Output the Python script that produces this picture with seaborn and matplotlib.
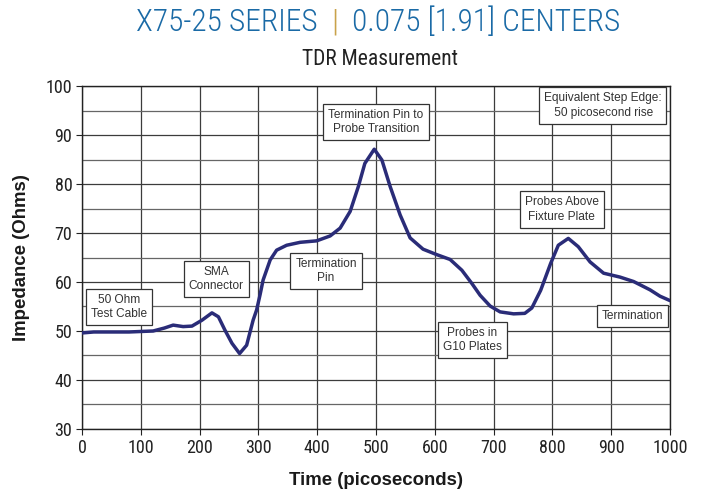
import matplotlib
matplotlib.use("Agg")
import matplotlib.pyplot as plt
import seaborn as sns
import pandas as pd
from matplotlib import font_manager as fm
from matplotlib.ticker import MultipleLocator

# TDR trace: time (ps) vs impedance (ohms)
time_ps = [0, 20, 50, 80, 100, 121, 140, 155, 172, 187, 204, 221, 232, 243,
           255, 268, 280, 291, 297, 303, 308, 320, 331, 348, 371, 399, 422,
           439, 456, 470, 481, 497, 510, 524, 541, 558, 580, 603, 626, 646,
           663, 677, 694, 711, 734, 753, 765, 780, 797, 810, 827, 844, 864,
           887, 915, 938, 966, 983, 1000]
impedance = [49.6, 49.8, 49.8, 49.8, 49.9, 50.0, 50.6, 51.2, 50.9, 51.0, 52.2,
             53.7, 52.9, 50.2, 47.5, 45.4, 47.1, 52.2, 54.3, 57.5, 60.4, 64.5,
             66.5, 67.5, 68.1, 68.4, 69.4, 71.0, 74.4, 79.5, 84.2, 87.1, 84.9,
             79.5, 73.7, 69.0, 66.7, 65.6, 64.6, 62.4, 59.7, 57.3, 55.1, 53.9,
             53.5, 53.6, 54.7, 58.3, 63.8, 67.5, 68.9, 67.2, 64.1, 61.8, 61.0,
             60.1, 58.4, 57.1, 56.2]

# Callout labels and their anchor points (time, impedance)
callout_text = ["50 Ohm\nTest Cable", "SMA\nConnector", "Termination\nPin",
                "Termination Pin to\nProbe Transition",
                "Equivalent Step Edge:\n 50 picosecond rise",
                "Probes Above\nFixture Plate", "Probes in\nG10 Plates",
                "Termination"]
callout_t = [63, 228, 415, 500, 885, 816, 664, 936]
callout_z = [54.9, 60.6, 62.2, 92.7, 96.0, 74.8, 48.2, 53.1]

x_ticks = list(range(0, 1001, 100))
y_ticks = list(range(30, 101, 10))


def condensed_font(light=False):
    """Find an installed narrow/condensed sans face; fall back to Liberation Sans."""
    def is_narrow(f):
        st = f.stretch
        if isinstance(st, str):
            return "condensed" in st or "Narrow" in f.name or "Condensed" in f.name
        return st <= 87 or "Narrow" in f.name or "Condensed" in f.name

    cands = [f for f in fm.fontManager.ttflist
             if is_narrow(f) and f.style == "normal"
             and "Mono" not in f.name and "Serif" not in f.name
             and "CJK" not in f.name]
    order = ["Roboto Condensed", "Liberation Sans Narrow", "Noto Sans",
             "Open Sans", "DejaVu Sans", "Roboto", "Lato", "Inter"]

    def wnum(w):
        if isinstance(w, int):
            return w
        return {"light": 300, "normal": 400, "regular": 400, "book": 400,
                "medium": 500, "bold": 700}.get(str(w), 400)

    target = 300 if light else 400

    def key(f):
        fam_rank = next((i for i, n in enumerate(order) if f.name.startswith(n)),
                        len(order))
        return (fam_rank, abs(wnum(f.weight) - target))

    if cands:
        best = sorted(cands, key=key)[0]
        return fm.FontProperties(fname=best.fname)
    return fm.FontProperties(family=["Liberation Sans", "DejaVu Sans"])


df = pd.DataFrame({"Time (picoseconds)": time_ps, "Impedance (Ohms)": impedance})

sns.set_theme(style="white")
plt.rcParams["font.family"] = ["Liberation Sans", "DejaVu Sans"]

fp_tick = condensed_font()
fp_title = condensed_font(light=True)

fig = plt.figure(figsize=(7.05, 4.91), dpi=100)
ax = fig.add_axes([0.1163, 0.1263, 0.8341, 0.6985])

sns.lineplot(data=df, x="Time (picoseconds)", y="Impedance (Ohms)", ax=ax,
             color="#2a2c78", linewidth=2.5, zorder=3)
ax.lines[0].set_solid_joinstyle("round")

ax.set_xlim(0, 1000)
ax.set_ylim(30, 100)
ax.set_xticks(x_ticks)
ax.set_yticks(y_ticks)
ax.yaxis.set_minor_locator(MultipleLocator(5))
ax.grid(True, which="major", color="#3c3c3c", linewidth=0.9)
ax.grid(True, which="minor", axis="y", color="#666666", linewidth=0.9)
for s in ax.spines.values():
    s.set_color("#222222")
    s.set_linewidth(1.0)

ax.tick_params(axis="both", which="major", direction="out", length=4, width=0.8,
               color="#222222", labelsize=13, pad=3, bottom=True, left=True)
ax.tick_params(axis="y", which="minor", length=0)
for lbl in ax.get_xticklabels() + ax.get_yticklabels():
    lbl.set_fontproperties(fp_tick)
    lbl.set_fontsize(13)
    lbl.set_color("#222222")

ax.set_xlabel("Time (picoseconds)", fontsize=13.4, fontweight="bold",
              color="#1a1a1a", labelpad=11)
ax.set_ylabel("Impedance (Ohms)", fontsize=13.4, fontweight="bold",
              color="#1a1a1a", labelpad=11)

for txt, t, z in zip(callout_text, callout_t, callout_z):
    ax.text(t, z, txt, ha="center", va="center", fontsize=8.6, color="#333333",
            linespacing=1.25, zorder=5,
            bbox=dict(boxstyle="square,pad=0.42", facecolor="white",
                      edgecolor="#333333", linewidth=0.9))

# Header: series name, gold divider, pitch
title_y = 0.955
fig.text(318 / 705, title_y, "X75-25 SERIES", ha="right", va="center",
         fontproperties=fp_title, fontsize=22.6, color="#1a6aa6")
fig.text(335 / 705, title_y, "|", ha="center", va="center",
         fontproperties=fp_title, fontsize=22.6, color="#c9a24a")
fig.text(352 / 705, title_y, "0.075 [1.91] CENTERS", ha="left", va="center",
         fontproperties=fp_title, fontsize=22.6, color="#1a6aa6")
fig.text(380 / 705, 0.878, "TDR Measurement", ha="center", va="center",
         fontproperties=fp_tick, fontsize=15.5, color="#222222")

fig.savefig("out.png", dpi=100)
